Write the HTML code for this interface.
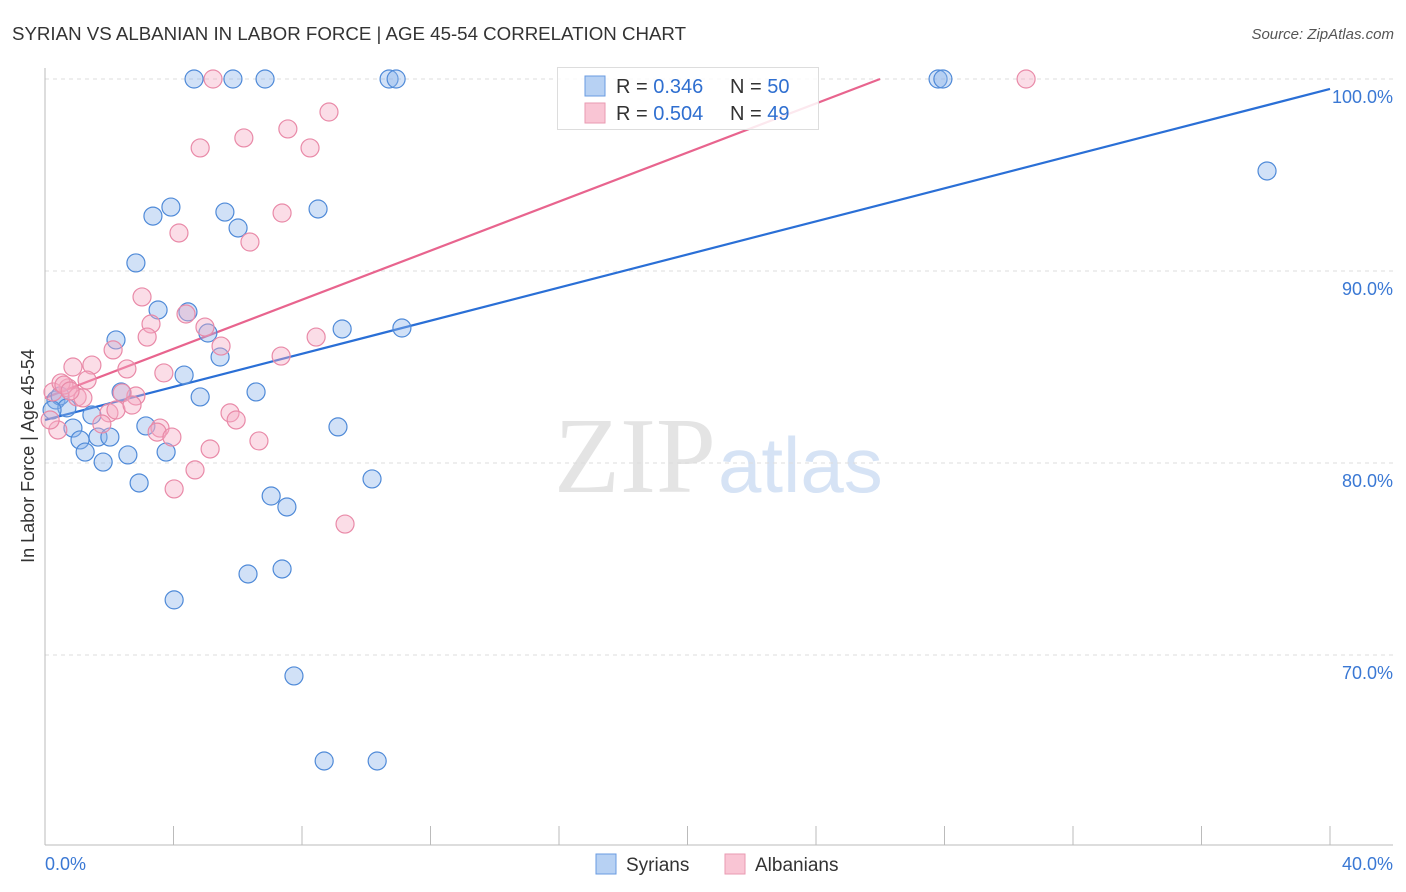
<!DOCTYPE html>
<html><head><meta charset="utf-8">
<style>
body{margin:0;background:#fff;font-family:"Liberation Sans",sans-serif;}
svg{display:block}
</style></head>
<body>
<svg id="chart" width="1406" height="892">
<text x="12" y="40" font-size="18.7" fill="#333">SYRIAN VS ALBANIAN IN LABOR FORCE | AGE 45-54 CORRELATION CHART</text>
<text x="1394" y="39" font-size="15" fill="#555" text-anchor="end" font-style="italic">Source: ZipAtlas.com</text>
<text x="716" y="492" font-size="108" fill="#e4e4e4" text-anchor="end" font-family="Liberation Serif,serif">ZIP</text>
<text x="718" y="492" font-size="78" fill="#d6e3f5">atlas</text>
<text transform="translate(34,456) rotate(-90)" font-size="18" fill="#333" text-anchor="middle">In Labor Force | Age 45-54</text>
<g id="grid"></g><g id="axes"></g><g id="lines"></g><g id="dots"></g>
<g>
<rect x="557.5" y="67.5" width="261" height="62" fill="#fff" fill-opacity="0.85" stroke="#ddd"/>
<rect x="585" y="76" width="20" height="20" fill="#b7d1f3" stroke="#6a9be0"/>
<rect x="585" y="103" width="20" height="20" fill="#f9c5d4" stroke="#e99ab2"/>
<text x="616" y="93" font-size="20" fill="#333">R = <tspan fill="#2f6fd0">0.346</tspan></text>
<text x="730" y="93" font-size="20" fill="#333">N = <tspan fill="#2f6fd0">50</tspan></text>
<text x="616" y="120" font-size="20" fill="#333">R = <tspan fill="#2f6fd0">0.504</tspan></text>
<text x="730" y="120" font-size="20" fill="#333">N = <tspan fill="#2f6fd0">49</tspan></text>
</g>
<g>
<rect x="596" y="854" width="20" height="20" fill="#b7d1f3" stroke="#6a9be0"/>
<text x="626" y="871" font-size="19" fill="#333">Syrians</text>
<rect x="725" y="854" width="20" height="20" fill="#f9c5d4" stroke="#e99ab2"/>
<text x="755" y="871" font-size="19" fill="#333">Albanians</text>
</g>
</svg>
<script>
const yTicks=[100,90,80,70];
const yTickLabels=["100.0%","90.0%","80.0%","70.0%"];
const xTicks=[0,4,8,12,16,20,24,28,32,36,40];
const xEndLabels=["0.0%","40.0%"];
const syrX=[4.64,5.85,6.85,10.71,10.93,27.80,27.95,38.04,3.36,3.92,5.60,6.01,8.50,2.83,3.52,4.45,2.21,5.07,5.45,9.25,11.11,4.33,4.83,2.37,6.57,0.34,0.47,0.68,1.46,0.87,3.14,9.12,1.09,1.65,2.02,1.25,2.58,3.77,1.81,2.93,10.18,7.04,7.53,6.32,7.38,4.02,7.75,8.69,10.34,0.22];
const syrY=[100,100,100,100,100,100,100,95.21,92.86,93.33,93.07,92.24,93.23,90.42,87.97,87.87,86.41,86.77,85.52,86.98,87.03,84.58,83.44,83.70,83.70,83.28,83.49,82.87,82.50,81.82,81.93,81.88,81.20,81.35,81.35,80.57,80.42,80.57,80.05,78.96,79.17,78.28,77.71,74.22,74.48,72.87,68.91,64.48,64.48,82.76];
const albX=[5.23,30.54,8.84,7.56,6.19,4.83,8.25,7.38,4.17,6.38,3.02,3.30,4.39,3.18,4.98,2.12,5.48,0.87,1.46,1.31,2.55,3.70,7.35,8.44,0.72,1.0,1.18,0.25,0.50,2.83,2.40,1.99,2.21,2.71,5.76,5.95,3.58,3.49,1.77,3.95,0.40,0.16,5.14,6.66,4.67,4.02,9.34,0.59,0.78];
const albY=[100,100,98.28,97.40,96.93,96.41,96.41,93.02,91.98,91.51,88.65,87.24,87.76,86.56,87.08,85.89,86.09,85.0,85.1,84.32,84.9,84.69,85.57,86.56,83.91,83.44,83.39,83.70,84.17,83.49,83.65,82.61,82.76,83.02,82.61,82.24,81.82,81.61,82.03,81.35,81.72,82.24,80.73,81.15,79.64,78.65,76.82,84.06,83.75];
const syrTrend=[82.24,99.48];
const albTrend=[83.39,0.639];
const NS="http://www.w3.org/2000/svg";
const X=v=>45+v/40*1285;
const Y=v=>79+(100-v)*19.2;
function mk(parent,tag,attrs){const e=document.createElementNS(NS,tag);for(const k in attrs)e.setAttribute(k,attrs[k]);document.getElementById(parent).appendChild(e);return e;}
yTicks.forEach((t,i)=>{
 const l=mk('grid','line',{x1:45,x2:1393,y1:Y(t),y2:Y(t),stroke:'#ddd','stroke-dasharray':'4,4'});
 
 
 const tx=mk('grid','text',{x:1393,y:Y(t)+24,'font-size':18,fill:'#3a78d4','text-anchor':'end'});
 tx.textContent=yTickLabels[i];
 
 
});
let a=mk('axes','line',{x1:45,x2:45,y1:68,y2:845,stroke:'#bbb'});


a=mk('axes','line',{x1:45,x2:1393,y1:845,y2:845,stroke:'#bbb'});


xTicks.forEach(t=>{
 const l=mk('axes','line',{x1:X(t),x2:X(t),y1:826,y2:845,stroke:'#bbb'});
 
 
});
let t0=mk('axes','text',{x:45,y:870,'font-size':18,fill:'#3a78d4'});t0.textContent=xEndLabels[0];


let t1=mk('axes','text',{x:1393,y:870,'font-size':18,fill:'#3a78d4','text-anchor':'end'});t1.textContent=xEndLabels[1];


const bl=mk('lines','line',{x1:X(0),y1:Y(syrTrend[0]),x2:X(40),y2:Y(syrTrend[1]),stroke:'#2a6fd6','stroke-width':2.2});


const xe=(100-albTrend[0])/albTrend[1];
const pl=mk('lines','line',{x1:X(0),y1:Y(albTrend[0]),x2:X(xe),y2:Y(100),stroke:'#e8648e','stroke-width':2.2});


syrX.forEach((v,i)=>{
 const c=mk('dots','circle',{cx:X(v),cy:Y(syrY[i]),r:9,fill:'rgba(140,180,236,0.4)',stroke:'#4f8ad8','stroke-width':1.2});
 
 
});
albX.forEach((v,i)=>{
 const c=mk('dots','circle',{cx:X(v),cy:Y(albY[i]),r:9,fill:'rgba(245,170,195,0.4)',stroke:'#e98aa8','stroke-width':1.2});
 
 
});
</script>
</body></html>
